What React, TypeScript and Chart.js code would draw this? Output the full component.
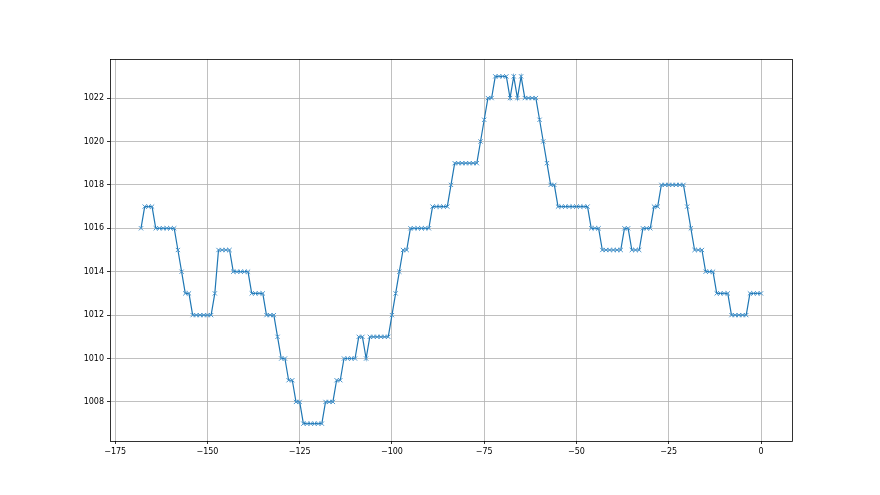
import React, { useEffect, useRef } from "react";
import { Chart, registerables } from "chart.js";

Chart.register(...registerables);

// Hours relative to now and pressure readings (hPa), read as runs of equal values
const hours: number[] = [];
for (let h = -168; h <= 0; h++) hours.push(h);

const pressure: number[] = [
  1016,
  1017, 1017, 1017,
  1016, 1016, 1016, 1016, 1016, 1016,
  1015,
  1014,
  1013, 1013,
  1012, 1012, 1012, 1012, 1012, 1012,
  1013,
  1015, 1015, 1015, 1015,
  1014, 1014, 1014, 1014, 1014,
  1013, 1013, 1013, 1013,
  1012, 1012, 1012,
  1011,
  1010, 1010,
  1009, 1009,
  1008, 1008,
  1007, 1007, 1007, 1007, 1007, 1007,
  1008, 1008, 1008,
  1009, 1009,
  1010, 1010, 1010, 1010,
  1011, 1011,
  1010,
  1011, 1011, 1011, 1011, 1011, 1011,
  1012,
  1013,
  1014,
  1015, 1015,
  1016, 1016, 1016, 1016, 1016, 1016,
  1017, 1017, 1017, 1017, 1017,
  1018,
  1019, 1019, 1019, 1019, 1019, 1019, 1019,
  1020,
  1021,
  1022, 1022,
  1023, 1023, 1023, 1023,
  1022,
  1023,
  1022,
  1023,
  1022, 1022, 1022, 1022,
  1021,
  1020,
  1019,
  1018, 1018,
  1017, 1017, 1017, 1017, 1017, 1017, 1017, 1017, 1017,
  1016, 1016, 1016,
  1015, 1015, 1015, 1015, 1015, 1015,
  1016, 1016,
  1015, 1015, 1015,
  1016, 1016, 1016,
  1017, 1017,
  1018, 1018, 1018, 1018, 1018, 1018, 1018,
  1017,
  1016,
  1015, 1015, 1015,
  1014, 1014, 1014,
  1013, 1013, 1013, 1013,
  1012, 1012, 1012, 1012, 1012,
  1013, 1013, 1013, 1013,
];

const xTicks = [-175, -150, -125, -100, -75, -50, -25, 0];
const yTicks = [1008, 1010, 1012, 1014, 1016, 1018, 1020, 1022];

const frameBox = {
  id: "frameBox",
  afterDraw(chart: any) {
    const { ctx, chartArea } = chart;
    ctx.save();
    ctx.strokeStyle = "#000000";
    ctx.lineWidth = 0.8;
    ctx.strokeRect(
      Math.round(chartArea.left) + 0.5,
      Math.round(chartArea.top) + 0.5,
      Math.round(chartArea.right - chartArea.left),
      Math.round(chartArea.bottom - chartArea.top)
    );
    ctx.restore();
  },
};

const whiteBg = {
  id: "whiteBg",
  beforeDraw(chart: any) {
    const { ctx } = chart;
    ctx.save();
    ctx.fillStyle = "#ffffff";
    ctx.fillRect(0, 0, chart.width, chart.height);
    ctx.restore();
  },
};

export default function App() {
  const ref = useRef<HTMLCanvasElement>(null);
  useEffect(() => {
    if (!ref.current) return;
    const data = hours.map((h, i) => ({ x: h, y: pressure[i] }));
    const chart = new Chart(ref.current, {
      type: "line",
      data: {
        datasets: [
          {
            data,
            borderColor: "#1f77b4",
            backgroundColor: "#1f77b4",
            borderWidth: 1.2,
            pointStyle: "crossRot",
            pointRadius: 3,
            pointBorderWidth: 1,
            pointBorderColor: "#4a95cc",
            tension: 0,
            fill: false,
          },
        ],
      },
      options: {
        animation: false,
        responsive: false,
        maintainAspectRatio: false,
        layout: { padding: { left: 0, right: 88, top: 59, bottom: 0 } },
        plugins: { legend: { display: false }, tooltip: { enabled: false } },
        scales: {
          x: {
            type: "linear",
            min: -176.4,
            max: 8.4,
            afterBuildTicks: (s: any) => {
              s.ticks = xTicks.map((v) => ({ value: v }));
            },
            afterFit: (s: any) => {
              s.height = 54;
            },
            grid: {
              color: "#b0b0b0",
              lineWidth: 0.8,
              tickColor: "#000000",
              tickLength: 3,
            },
            border: { display: false },
            ticks: {
              color: "#000000",
              font: { family: "DejaVu Sans", size: 8 },
              padding: 3,
              maxRotation: 0,
              autoSkip: false,
              callback: (v: any) => String(v).replace("-", "\u2212"),
            },
          },
          y: {
            type: "linear",
            min: 1006.2,
            max: 1023.8,
            afterBuildTicks: (s: any) => {
              s.ticks = yTicks.map((v) => ({ value: v }));
            },
            afterFit: (s: any) => {
              s.width = 110;
            },
            grid: {
              color: "#b0b0b0",
              lineWidth: 0.8,
              tickColor: "#000000",
              tickLength: 3,
            },
            border: { display: false },
            ticks: {
              color: "#000000",
              font: { family: "DejaVu Sans", size: 8 },
              padding: 3,
              autoSkip: false,
              callback: (v: any) => String(v),
            },
          },
        },
      },
      plugins: [whiteBg, frameBox],
    });
    return () => chart.destroy();
  }, []);
  return (
    <div style={{ position: "fixed", left: 0, top: 0, width: 880, height: 495, background: "#fff" }}>
      <canvas ref={ref} width={880} height={495} style={{ width: 880, height: 495 }} />
    </div>
  );
}
